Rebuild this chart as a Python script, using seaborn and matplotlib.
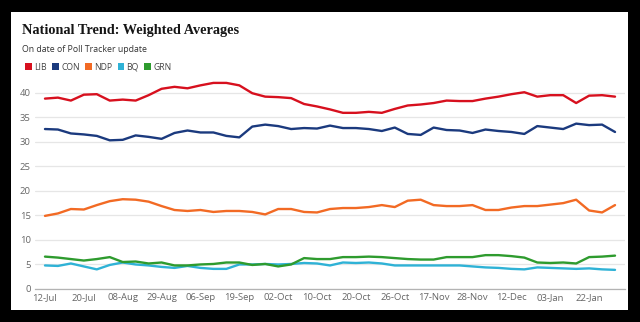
import numpy as np
import pandas as pd
import seaborn as sns
import matplotlib.pyplot as plt
from matplotlib.patches import Rectangle, Patch

# Poll Tracker update dates (labelled every third update)
tick_labels = ["12-Jul", "20-Jul", "08-Aug", "29-Aug", "06-Sep", "19-Sep", "02-Oct",
               "10-Oct", "20-Oct", "26-Oct", "17-Nov", "28-Nov", "12-Dec", "03-Jan", "22-Jan"]

parties = ["LIB", "CON", "NDP", "BQ", "GRN"]
colors = ["#d7101e", "#1b3a7e", "#f26a24", "#2fb2d6", "#2e9b2e"]

lib = [38.8, 39.0, 38.4, 39.6, 39.7, 38.4, 38.6, 38.4, 39.5, 40.8, 41.2, 40.9, 41.5, 42.0, 42.0,
       41.5, 39.9, 39.2, 39.1, 38.9, 37.7, 37.2, 36.6, 35.9, 35.9, 36.1, 35.9, 36.7, 37.4, 37.6,
       37.9, 38.4, 38.3, 38.3, 38.8, 39.2, 39.7, 40.1, 39.2, 39.5, 39.5, 37.9, 39.4, 39.5, 39.2]
con = [32.6, 32.5, 31.7, 31.5, 31.2, 30.3, 30.4, 31.3, 31.0, 30.6, 31.8, 32.3, 31.9, 31.9, 31.2,
       30.9, 33.1, 33.5, 33.2, 32.6, 32.8, 32.7, 33.3, 32.8, 32.8, 32.6, 32.2, 32.9, 31.6, 31.4,
       32.9, 32.4, 32.3, 31.8, 32.5, 32.2, 32.0, 31.6, 33.2, 32.9, 32.6, 33.7, 33.4, 33.5, 32.0]
ndp = [14.9, 15.4, 16.3, 16.2, 17.1, 17.9, 18.3, 18.2, 17.8, 16.9, 16.1, 15.9, 16.1, 15.7, 15.9,
       15.9, 15.7, 15.2, 16.3, 16.3, 15.7, 15.6, 16.3, 16.5, 16.5, 16.7, 17.1, 16.7, 18.0, 18.2,
       17.1, 16.9, 16.9, 17.1, 16.1, 16.1, 16.6, 16.9, 16.9, 17.2, 17.5, 18.2, 16.0, 15.6, 17.1]
bq = [4.8, 4.7, 5.2, 4.6, 4.0, 4.9, 5.4, 5.0, 4.8, 4.5, 4.3, 4.7, 4.3, 4.1, 4.1,
      5.0, 5.0, 5.1, 5.0, 5.1, 5.3, 5.2, 4.8, 5.4, 5.3, 5.4, 5.2, 4.8, 4.8, 4.8,
      4.8, 4.8, 4.8, 4.6, 4.4, 4.3, 4.1, 4.0, 4.4, 4.3, 4.2, 4.1, 4.2, 4.0, 3.9]
grn = [6.6, 6.4, 6.1, 5.8, 6.1, 6.5, 5.5, 5.6, 5.2, 5.4, 4.8, 4.8, 5.0, 5.1, 5.4,
       5.4, 4.9, 5.1, 4.6, 5.0, 6.3, 6.1, 6.1, 6.5, 6.5, 6.6, 6.5, 6.3, 6.1, 6.0,
       6.0, 6.5, 6.5, 6.5, 6.9, 6.9, 6.7, 6.4, 5.4, 5.3, 5.4, 5.2, 6.5, 6.6, 6.8]

series = dict(zip(parties, [lib, con, ndp, bq, grn]))
n = len(lib)
df = pd.concat(
    [pd.DataFrame({"update": np.arange(n), "share": vals, "party": p}) for p, vals in series.items()],
    ignore_index=True,
)
palette = dict(zip(parties, colors))

sns.set_theme(style="white")
plt.rcParams["font.family"] = ["Open Sans", "DejaVu Sans"]

fig = plt.figure(figsize=(6.4, 3.22), dpi=100, facecolor="black")
# white card behind the chart
fig.patches.append(Rectangle((11 / 640, 1 - 310 / 322), 617 / 640, 298 / 322,
                             transform=fig.transFigure, facecolor="white", edgecolor="none", zorder=-5))

ax = fig.add_axes([35 / 640, 1 - 289 / 322, 590 / 640, (289 - 78) / 322])
ax.set_facecolor("none")
ax.set_zorder(2)

sns.lineplot(data=df, x="update", y="share", hue="party", hue_order=parties,
             palette=palette, linewidth=1.7, legend=False, ax=ax, zorder=3)

ax.set_xlim(-0.77, n - 1 + 0.77)
ax.set_ylim(0, 43)
ax.set_yticks(np.arange(0, 41, 5))
ax.set_xticks(np.arange(0, 3 * len(tick_labels), 3))
ax.set_xticklabels(tick_labels)
ax.set_xlabel("")
ax.set_ylabel("")
ax.grid(axis="y", color="#e6e6e6", linewidth=0.9)
ax.set_axisbelow(True)
for s in ["top", "right", "left"]:
    ax.spines[s].set_visible(False)
ax.spines["bottom"].set_color("#b3b3b3")
ax.spines["bottom"].set_linewidth(0.9)
ax.tick_params(axis="both", length=0, labelsize=6.8, colors="#666666")
ax.tick_params(axis="x", pad=3)
ax.tick_params(axis="y", pad=3)

fig.text(22 / 640, 1 - 34 / 322, "National Trend: Weighted Averages",
         fontsize=10.3, family="Liberation Serif", weight="bold", color="#151515",
         ha="left", va="baseline")
fig.text(22 / 640, 1 - 50 / 322, "On date of Poll Tracker update",
         fontsize=6.3, color="#333333", ha="left", va="center")

handles = [Patch(facecolor=c, edgecolor="none", label=p) for p, c in zip(parties, colors)]
fig.legend(handles=handles, loc="center left", bbox_to_anchor=(21 / 640, 1 - 67 / 322),
           ncol=5, frameon=False, fontsize=6.2, handlelength=0.72, handleheight=1.0,
           handletextpad=0.3, columnspacing=0.65, borderpad=0, labelcolor="#444444")

fig.savefig("out.png", dpi=100, facecolor="black")
